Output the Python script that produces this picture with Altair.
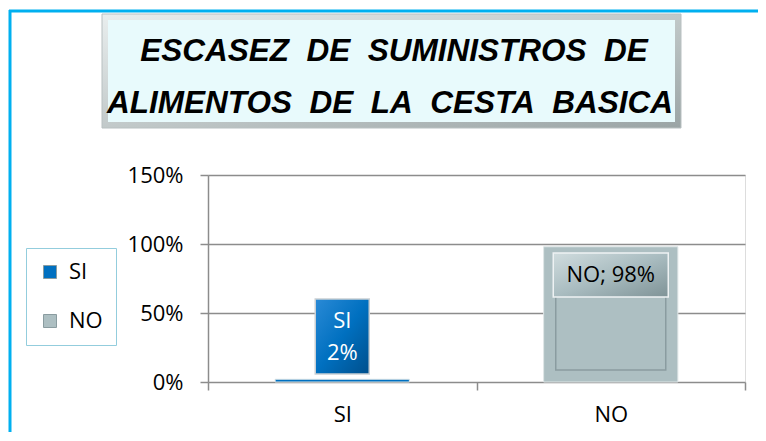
import altair as alt
import pandas as pd

# ---- data ----
categories = ["SI", "NO"]
values = [0.02, 0.98]
labels = ["SI\n2%", "NO; 98%"]
colors = ["#0070C0", "#ADBFC2"]
y_ticks = [0, 0.5, 1.0, 1.5]
title_line1 = "ESCASEZ\u00a0\u00a0DE\u00a0\u00a0SUMINISTROS\u00a0\u00a0DE"
title_line2 = "ALIMENTOS\u00a0\u00a0DE\u00a0\u00a0LA\u00a0\u00a0CESTA\u00a0\u00a0BASICA"

df = pd.DataFrame({"cat": categories, "value": values, "label": labels})

FONT = "Open Sans"
GRID = "#8c8c8c"

x_enc = alt.X("cat:N", sort=categories,
              scale=alt.Scale(paddingInner=0, paddingOuter=0),
              axis=alt.Axis(title=None, labelAngle=0, domain=False, grid=False,
                            tickBand="extent", tickSize=8, tickColor=GRID, tickWidth=1.5,
                            labelFont=FONT, labelFontSize=22, labelColor="black",
                            labelPadding=14))
y_enc = alt.Y("value:Q", scale=alt.Scale(domain=[0, 1.5], nice=False),
              axis=alt.Axis(title=None, format="%", values=y_ticks, grid=True,
                            gridColor=GRID, gridWidth=1.5, domainColor=GRID, domainWidth=1.5,
                            tickColor=GRID, tickWidth=1.5, tickSize=8,
                            labelFont=FONT, labelFontSize=22, labelColor="black",
                            labelPadding=17))

base = alt.Chart(df)

bars = base.mark_bar(width=alt.RelativeBandSize(0.5), stroke="#dfe6e7", strokeWidth=1).encode(
    x=x_enc,
    y=y_enc,
    y2=alt.datum(0),
    color=alt.Color("cat:N",
                    scale=alt.Scale(domain=categories, range=colors),
                    legend=alt.Legend(orient="none", legendX=-182, legendY=73, title=None,
                                      symbolType="square", symbolSize=169,
                                      symbolStrokeWidth=1, symbolStrokeColor="#8a9ca0",
                                      labelFont=FONT, labelFontSize=22, labelColor="black",
                                      padding=13, rowPadding=27, labelOffset=8,
                                      strokeColor="#93cddd", fillColor="white")),
)

inner = base.transform_filter(alt.datum.cat == "NO").mark_bar(
    width=110, yOffset=12, y2Offset=-12, fill="#ADBFC2", stroke="#8a9ca0", strokeWidth=1.5
).encode(x=alt.X("cat:N", sort=categories), y="value:Q", y2=alt.datum(0))

grad_blue = alt.LinearGradient(gradient="linear", x1=0, y1=0, x2=1, y2=1,
                               stops=[alt.GradientStop(offset=0, color="#2a8ad6"),
                                      alt.GradientStop(offset=0.5, color="#0070C0"),
                                      alt.GradientStop(offset=1, color="#004f8c")])
grad_gray = alt.LinearGradient(gradient="linear", x1=0, y1=0, x2=1, y2=1,
                               stops=[alt.GradientStop(offset=0, color="#d0dcde"),
                                      alt.GradientStop(offset=0.5, color="#a9bcc0"),
                                      alt.GradientStop(offset=1, color="#7f9397")])

si_box = base.transform_filter(alt.datum.cat == "SI").mark_bar(
    width=54, fill=grad_blue, stroke="#c9cfd4", strokeWidth=1.5
).encode(x=alt.X("cat:N", sort=categories), y=alt.value(124), y2=alt.value(199))

no_box = base.transform_filter(alt.datum.cat == "NO").mark_bar(
    width=115, fill=grad_gray, stroke="#eef2f3", strokeWidth=1.5
).encode(x=alt.X("cat:N", sort=categories), y=alt.value(78), y2=alt.value(122))

si_text = base.transform_filter(alt.datum.cat == "SI").mark_text(
    font=FONT, fontSize=22, color="white", lineBreak="\n", lineHeight=32, baseline="middle"
).encode(x=alt.X("cat:N", sort=categories), y=alt.value(146), text="label:N")

no_text = base.transform_filter(alt.datum.cat == "NO").mark_text(
    font=FONT, fontSize=22, color="black", baseline="middle"
).encode(x=alt.X("cat:N", sort=categories), y=alt.value(100), text="label:N")

# ---- decorations: outer frame and title box ----
frame_top = alt.Chart(pd.DataFrame({"k": [0]})).mark_rule(color="#00B0F0", strokeWidth=3).encode(
    x=alt.value(-199), x2=alt.value(560), y=alt.value(-164))
frame_left = alt.Chart(pd.DataFrame({"k": [0]})).mark_rule(color="#00B0F0", strokeWidth=3).encode(
    x=alt.value(-198), y=alt.value(-165), y2=alt.value(270))

title_grad = alt.LinearGradient(gradient="linear", x1=0, y1=0, x2=1, y2=1,
                                stops=[alt.GradientStop(offset=0, color="#e9eeee"),
                                       alt.GradientStop(offset=1, color="#9aa4a5")])
title_outer = alt.Chart(pd.DataFrame({"k": [0]})).mark_rect(fill=title_grad, stroke="#b8c0c1", strokeWidth=1).encode(
    x=alt.value(-106), x2=alt.value(473), y=alt.value(-161), y2=alt.value(-47))
title_inner = alt.Chart(pd.DataFrame({"k": [0]})).mark_rect(fill="#e8fafc").encode(
    x=alt.value(-100), x2=alt.value(467), y=alt.value(-155), y2=alt.value(-53))

t1 = alt.Chart(pd.DataFrame({"t": [title_line1]})).mark_text(
    font="Liberation Sans", fontSize=31.5, fontWeight="bold", fontStyle="italic",
    color="black", baseline="alphabetic", align="center"
).encode(x=alt.value(186), y=alt.value(-114), text="t:N")
t2 = alt.Chart(pd.DataFrame({"t": [title_line2]})).mark_text(
    font="Liberation Sans", fontSize=31.5, fontWeight="bold", fontStyle="italic",
    color="black", baseline="alphabetic", align="center"
).encode(x=alt.value(182), y=alt.value(-62), text="t:N")

chart = alt.layer(
    bars, inner, si_box, no_box, si_text, no_text,
    frame_top, frame_left, title_outer, title_inner, t1, t2
).properties(
    width=537, height=207,
    padding={"left": 200, "top": 167, "right": 13, "bottom": 50},
    autosize=alt.AutoSizeParams(type="none"),
).configure_view(stroke=None).configure(background="white")

chart.save("out.html", embed_options={"renderer": "svg", "actions": False})
